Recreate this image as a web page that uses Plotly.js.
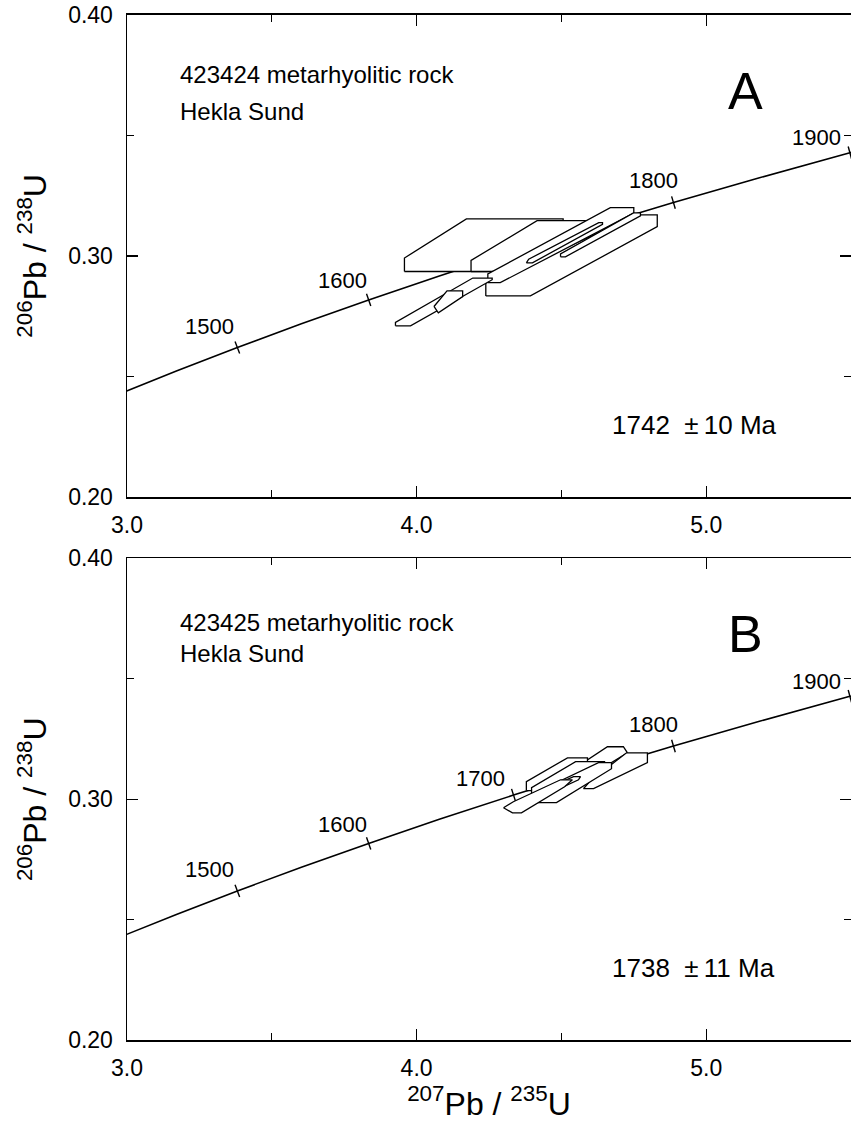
<!DOCTYPE html>
<html>
<head>
<meta charset="utf-8">
<script src="https://cdn.plot.ly/plotly-3.0.1.min.js"></script>
<style>html,body{margin:0;padding:0;background:#fff;}#chart{width:851px;height:1124px;}</style>
</head>
<body>
<div id="chart"></div>
<script>
// Concordia curve (age in Ma, 207Pb/235U, 206Pb/238U)
const concAges = [1400, 1450, 1500, 1550, 1600, 1650, 1700, 1750, 1800, 1850, 1900, 1950];
const concX = [2.9701, 3.1705, 3.3810, 3.6021, 3.8344, 4.0784, 4.3347, 4.6040, 4.8869, 5.1840, 5.4962, 5.8240];
const concY = [0.24256, 0.25223, 0.26198, 0.27181, 0.28171, 0.29169, 0.30175, 0.31189, 0.32210, 0.33239, 0.34276, 0.35321];

// ages marked on the concordia
const tickAges = [1500, 1600, 1700, 1800, 1900];
const labelAgesA = [1500, 1600, 1800, 1900];
const labelAgesB = [1500, 1600, 1700, 1800, 1900];

// Sample 423424 (panel A) error parallelograms
const polyAx = [
  [3.958, 3.958, 4.172, 4.506, 4.506, 4.246, 4.246],
  [4.188, 4.188, 4.416, 4.594, 4.594, 4.359, 4.359],
  [4.239, 4.239, 4.767, 4.831, 4.831, 4.393],
  [4.246, 4.246, 4.669, 4.750, 4.750, 4.289],
  [4.497, 4.497, 4.749, 4.773, 4.773, 4.514],
  [4.379, 4.387, 4.629, 4.642, 4.642, 4.400],
  [3.927, 3.927, 4.194, 4.261, 4.261, 3.979],
  [4.060, 4.105, 4.159, 4.159, 4.075]
];
const polyAy = [
  [0.2935, 0.2991, 0.3153, 0.3153, 0.3142, 0.2972, 0.2935],
  [0.2935, 0.2981, 0.3146, 0.3146, 0.3136, 0.2970, 0.2935],
  [0.2834, 0.2887, 0.3170, 0.3170, 0.3121, 0.2834],
  [0.2889, 0.2925, 0.3200, 0.3200, 0.3177, 0.2889],
  [0.2996, 0.3008, 0.3178, 0.3178, 0.3166, 0.2996],
  [0.2971, 0.2986, 0.3138, 0.3138, 0.3131, 0.2971],
  [0.2710, 0.2724, 0.2908, 0.2908, 0.2901, 0.2710],
  [0.2790, 0.2855, 0.2855, 0.2831, 0.2764]
];

// Sample 423425 (panel B) error parallelograms
const polyBx = [
  [4.479, 4.497, 4.659, 4.714, 4.728, 4.549],
  [4.576, 4.600, 4.725, 4.797, 4.797, 4.611],
  [4.379, 4.379, 4.521, 4.590, 4.590, 4.445],
  [4.397, 4.397, 4.549, 4.649, 4.649, 4.497],
  [4.372, 4.403, 4.628, 4.673, 4.673, 4.483, 4.403],
  [4.383, 4.400, 4.542, 4.566, 4.559, 4.410],
  [4.300, 4.334, 4.497, 4.538, 4.511, 4.362, 4.331]
];
const polyBy = [
  [0.3061, 0.3090, 0.3218, 0.3218, 0.3193, 0.3061],
  [0.3044, 0.3077, 0.3193, 0.3193, 0.3152, 0.3044],
  [0.3036, 0.3073, 0.3172, 0.3172, 0.3148, 0.3036],
  [0.3011, 0.3048, 0.3156, 0.3156, 0.3131, 0.3011],
  [0.2998, 0.3023, 0.3152, 0.3152, 0.3127, 0.2986, 0.2986],
  [0.2998, 0.3019, 0.3094, 0.3094, 0.3081, 0.2998],
  [0.2965, 0.2990, 0.3081, 0.3081, 0.3052, 0.2944, 0.2944]
];

const xTickVals = [3.0, 4.0, 5.0];
const yTickVals = [0.20, 0.30, 0.40];

const sampleA = ['423424 metarhyolitic rock', 'Hekla Sund'];
const sampleB = ['423425 metarhyolitic rock', 'Hekla Sund'];
const panelLetters = ['A', 'B'];
const ageResults = ['1742\u00a0\u00a0\u00b1\u200910 Ma', '1738\u00a0\u00a0\u00b1\u200911 Ma'];

// ---------------- layout / drawing ----------------
const W = 851, H = 1124;
const FONT = 'Liberation Sans, Arial, Helvetica, sans-serif';
const ML = 127;
const domA = [1 - 497 / H, 1 - 14.7 / H];
const domB = [1 - 1040.3 / H, 1 - 558.3 / H];
const XR = [3, 5.5], YR = [0.2, 0.4];

const traces = [];
function addPanel(xa, ya, px, py) {
  traces.push({x: concX, y: concY, xaxis: xa, yaxis: ya, mode: 'lines',
    line: {color: '#000', width: 1.6}, hoverinfo: 'skip', showlegend: false});
  for (let i = 0; i < px.length; i++) {
    traces.push({x: px[i].concat([px[i][0]]), y: py[i].concat([py[i][0]]),
      xaxis: xa, yaxis: ya, mode: 'lines', fill: 'toself', fillcolor: '#fff',
      line: {color: '#000', width: 1.3}, hoverinfo: 'skip', showlegend: false});
  }
}
addPanel('x', 'y', polyAx, polyAy);
addPanel('x2', 'y2', polyBx, polyBy);
// empty traces for the right-hand tick axes
traces.push({x: [], y: [], xaxis: 'x', yaxis: 'y3', showlegend: false});
traces.push({x: [], y: [], xaxis: 'x2', yaxis: 'y4', showlegend: false});

const shapes = [];
const annotations = [];
function concTicks(xref, yref, dom) {
  const sx = (W - ML) / (XR[1] - XR[0]);
  const sy = (dom[1] - dom[0]) * H / (YR[1] - YR[0]);
  tickAges.forEach(a => {
    const i = concAges.indexOf(a);
    const dx = (concX[i + 1] - concX[i - 1]) * sx;
    const dy = (concY[i + 1] - concY[i - 1]) * sy;
    const n = Math.hypot(dx, dy);
    const nx = -dy / n, ny = dx / n, L = 6.5;
    shapes.push({type: 'line', xref: xref, yref: yref, layer: 'below',
      xsizemode: 'pixel', ysizemode: 'pixel', xanchor: concX[i], yanchor: concY[i],
      x0: -nx * L, x1: nx * L, y0: -ny * L, y1: ny * L,
      line: {color: '#000', width: 1.4}});
  });
}
concTicks('x', 'y', domA);
concTicks('x2', 'y2', domB);

const labelShift = {1500: [-28, 21], 1600: [-26, 19], 1700: [-33, 17], 1800: [-20, 22], 1900: [-33, 15]};
function ageLabels(xref, yref, list) {
  list.forEach(a => {
    const i = concAges.indexOf(a);
    annotations.push({xref: xref, yref: yref, x: concX[i], y: concY[i], text: String(a),
      showarrow: false, xanchor: 'center', yanchor: 'middle',
      xshift: labelShift[a][0], yshift: labelShift[a][1],
      font: {family: FONT, size: 22, color: '#000'}});
  });
}
ageLabels('x', 'y', labelAgesA);
ageLabels('x2', 'y2', labelAgesB);

function panelText(xref, yref, lines, letter, result, y1, y2) {
  annotations.push({xref: xref + ' domain', yref: yref + ' domain', x: (178 - ML) / (W - ML), y: y1,
    text: lines[0], showarrow: false, xanchor: 'left', yanchor: 'middle',
    font: {family: FONT, size: 24, color: '#000'}});
  annotations.push({xref: xref + ' domain', yref: yref + ' domain', x: (178 - ML) / (W - ML), y: y2,
    text: lines[1], showarrow: false, xanchor: 'left', yanchor: 'middle',
    font: {family: FONT, size: 24, color: '#000'}});
  annotations.push({xref: xref + ' domain', yref: yref + ' domain', x: (745 - ML) / (W - ML), y: 1 - 76 / 482.3,
    text: letter, showarrow: false, xanchor: 'center', yanchor: 'middle',
    font: {family: FONT, size: 52, color: '#000'}});
  annotations.push({xref: xref + ' domain', yref: yref + ' domain', x: (610 - ML) / (W - ML), y: 72 / 482.3,
    text: result, showarrow: false, xanchor: 'left', yanchor: 'middle',
    font: {family: FONT, size: 26, color: '#000'}});
}
panelText('x', 'y', sampleA, panelLetters[0], ageResults[0], 1 - 60 / 482.3, 1 - 97 / 482.3);
panelText('x2', 'y2', sampleB, panelLetters[1], ageResults[1], 1 - 64 / 482.3, 1 - 95 / 482.3);

function xAxis(anchor, withTitle) {
  const ax = {anchor: anchor, domain: [0, 1], range: XR, tickvals: xTickVals, tickformat: '.1f',
    ticks: 'inside', ticklen: 11, tickwidth: 1.3, tickcolor: '#000',
    minor: {dtick: 0.5, tick0: 3, ticks: 'inside', ticklen: 7, tickwidth: 1.3, tickcolor: '#000', showgrid: false},
    showline: true, linecolor: '#000', linewidth: 1.5, mirror: 'ticks',
    showgrid: false, zeroline: false, ticklabelstandoff: 7,
    tickfont: {family: FONT, size: 23, color: '#000'}, fixedrange: true};
  if (withTitle) ax.title = {text: '<sup>207</sup>Pb / <sup>235</sup>U', standoff: 4,
    font: {family: FONT, size: 32, color: '#000'}};
  return ax;
}
function yAxis(anchor, dom) {
  return {anchor: anchor, domain: dom, range: YR, tickvals: yTickVals, tickformat: '.2f',
    ticks: 'inside', ticklen: 11, tickwidth: 1.3, tickcolor: '#000',
    minor: {dtick: 0.05, tick0: 0.2, ticks: 'inside', ticklen: 7, tickwidth: 1.3, tickcolor: '#000', showgrid: false},
    showline: true, linecolor: '#000', linewidth: 1.5, mirror: false,
    showgrid: false, zeroline: false, ticklabelstandoff: 8,
    tickfont: {family: FONT, size: 23, color: '#000'}, fixedrange: true,
    title: {text: '<sup>206</sup>Pb / <sup>238</sup>U', standoff: 12, font: {family: FONT, size: 32, color: '#000'}}};
}
function yRight(overlay, anchor) {
  return {overlaying: overlay, anchor: anchor, side: 'right', range: YR, tickvals: yTickVals,
    ticks: 'inside', ticklen: 11, tickwidth: 1.3, tickcolor: '#000',
    minor: {dtick: 0.05, tick0: 0.2, ticks: 'inside', ticklen: 7, tickwidth: 1.3, tickcolor: '#000', showgrid: false},
    showline: false, showgrid: false, zeroline: false, showticklabels: false, fixedrange: true};
}

const layout = {
  width: W, height: H, margin: {l: ML, r: 0, t: 0, b: 0},
  paper_bgcolor: '#fff', plot_bgcolor: 'rgba(0,0,0,0)', showlegend: false,
  font: {family: FONT, color: '#000'},
  xaxis: xAxis('y', false), yaxis: yAxis('x', domA), yaxis3: yRight('y', 'x'),
  xaxis2: xAxis('y2', true), yaxis2: yAxis('x2', domB), yaxis4: yRight('y2', 'x2'),
  shapes: shapes, annotations: annotations
};
Plotly.newPlot('chart', traces, layout, {staticPlot: true, displayModeBar: false});
</script>
</body>
</html>
